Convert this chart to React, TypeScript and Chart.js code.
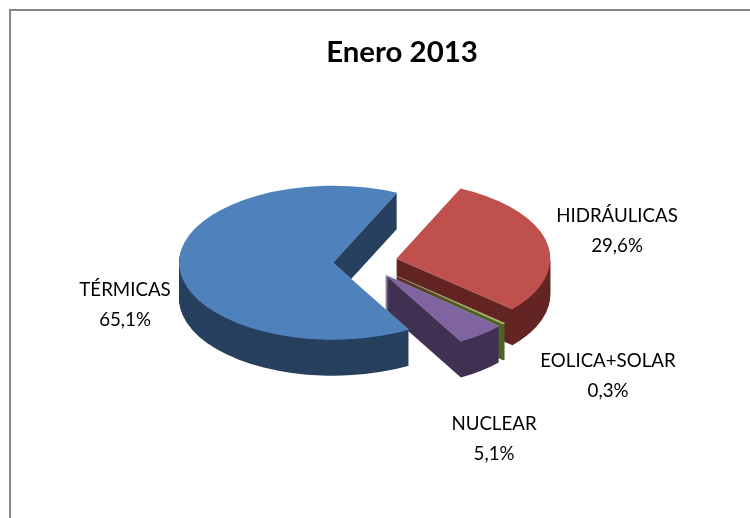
import React, { useEffect, useRef } from "react";
import { Chart, registerables } from "chart.js";

Chart.register(...registerables);

const categories = ["HIDRÁULICAS", "EOLICA+SOLAR", "NUCLEAR", "TÉRMICAS"];
const shares = [29.6, 0.3, 5.1, 65.1];
const topColors = ["#C0504D", "#9BBB59", "#8064A2", "#4F81BD"];
const wallColors = ["#632523", "#4F6228", "#403152", "#27405F"];
const titleText = "Enero 2013";

const labelAnchors = [
  { x: 617, y: 216 },
  { x: 608, y: 361 },
  { x: 494, y: 424 },
  { x: 125, y: 290 },
];

const FONT = "Lato, Carlito, Calibri, sans-serif";
const PIE_CX = 365;
const PIE_CY = 262;
const SQUASH = 0.5;
const DEPTH = 36;

const pie3d = {
  id: "pie3d",
  beforeDraw(chart: any) {
    const { ctx, width, height } = chart;
    ctx.save();
    ctx.fillStyle = "#FFFFFF";
    ctx.fillRect(0, 0, width, height);
    ctx.strokeStyle = "#868686";
    ctx.lineWidth = 2;
    ctx.beginPath();
    ctx.moveTo(10, height);
    ctx.lineTo(10, 10);
    ctx.lineTo(width, 10);
    ctx.stroke();
    ctx.restore();
  },
  beforeDatasetDraw(chart: any, args: any) {
    const { ctx } = chart;
    const arcs = args.meta.data;
    const trace = (arc: any, dy: number) => {
      const off = (arc.options.offset || 0) / 4;
      const mid = (arc.startAngle + arc.endAngle) / 2;
      ctx.setTransform(1, 0, 0, SQUASH, PIE_CX, PIE_CY + dy);
      const ox = Math.cos(mid) * off;
      const oy = Math.sin(mid) * off;
      ctx.beginPath();
      ctx.moveTo(ox, oy);
      ctx.arc(ox, oy, arc.outerRadius, arc.startAngle, arc.endAngle);
      ctx.closePath();
    };
    const corner = (arc: any, angle: number) => {
      const off = (arc.options.offset || 0) / 4;
      const mid = (arc.startAngle + arc.endAngle) / 2;
      const ox = Math.cos(mid) * off;
      const oy = Math.sin(mid) * off;
      return {
        ax: PIE_CX + ox,
        ay: PIE_CY + oy * SQUASH,
        x: PIE_CX + ox + Math.cos(angle) * arc.outerRadius,
        y: PIE_CY + (oy + Math.sin(angle) * arc.outerRadius) * SQUASH,
      };
    };
    ctx.save();
    arcs.forEach((arc: any, i: number) => {
      ctx.fillStyle = wallColors[i];
      for (let d = DEPTH; d >= 1; d--) {
        trace(arc, d);
        ctx.fill();
      }
      trace(arc, 0);
      ctx.fillStyle = topColors[i];
      ctx.fill();
      ctx.setTransform(1, 0, 0, 1, 0, 0);
      ctx.lineWidth = 0.8;
      ctx.strokeStyle = "rgba(255,255,255,0.22)";
      [arc.startAngle, arc.endAngle].forEach((angle: number) => {
        const p = corner(arc, angle);
        ctx.beginPath();
        ctx.moveTo(p.ax, p.ay);
        ctx.lineTo(p.x, p.y);
        ctx.stroke();
      });
    });
    ctx.restore();
    return false;
  },
  afterDatasetsDraw(chart: any) {
    const { ctx } = chart;
    ctx.save();
    ctx.fillStyle = "#000000";
    ctx.font = `18.7px ${FONT}`;
    ctx.textAlign = "center";
    ctx.textBaseline = "middle";
    categories.forEach((name, i) => {
      const a = labelAnchors[i];
      ctx.fillText(name, a.x, a.y);
      ctx.fillText(`${shares[i].toFixed(1).replace(".", ",")}%`, a.x, a.y + 30);
    });
    ctx.restore();
  },
};

export default function App() {
  const ref = useRef<HTMLCanvasElement>(null);
  useEffect(() => {
    const chart = new Chart(ref.current!, {
      type: "pie",
      data: {
        labels: categories,
        datasets: [
          {
            data: shares,
            backgroundColor: topColors,
            borderWidth: 0,
            offset: 128,
          },
        ],
      },
      options: {
        animation: false,
        responsive: false,
        events: [],
        rotation: 24.6,
        radius: 154,
        layout: { padding: { left: 54, top: 0, right: 0, bottom: 0 } },
        plugins: {
          legend: { display: false },
          tooltip: { enabled: false },
          title: {
            display: true,
            text: titleText,
            color: "#000000",
            font: { family: FONT, size: 29.4, weight: "bold" },
            padding: { top: 35, bottom: 10 },
          },
        },
      } as any,
      plugins: [pie3d],
    });
    return () => chart.destroy();
  }, []);
  return (
    <div style={{ position: "absolute", left: 0, top: 0, width: 750, height: 518, overflow: "hidden" }}>
      <canvas ref={ref} width={750} height={518} style={{ display: "block" }} />
    </div>
  );
}
